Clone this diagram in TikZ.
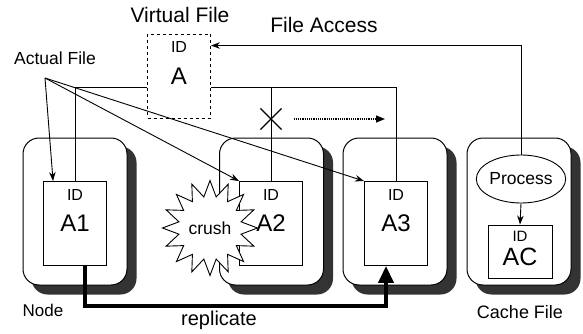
\documentclass[tikz,border=0pt]{standalone}
\usepackage{fontspec}
\setmainfont{Liberation Sans}
\usetikzlibrary{shapes.geometric, shapes.misc, arrows.meta, calc, backgrounds}

\begin{document}
\begin{tikzpicture}[x=1pt, y=1pt,
    host/.style={
        draw, fill=white, rounded corners=16pt, line width=1pt,
        minimum width=104pt, minimum height=147pt
    },
    hostshade/.style={fill=black!80, rounded corners=16pt},
    idtag/.style={anchor=north, yshift=-8pt, inner sep=0pt, font=\fontsize{16}{16}\selectfont},
    file/.style={
        draw, fill=white, line width=0.9pt, inner sep=0pt,
        minimum width=63pt, minimum height=84pt,
        font=\fontsize{24}{24}\selectfont,
        label={[idtag]north:ID}
    },
    lbl/.style={inner sep=0pt, font=\fontsize{#1}{#1}\selectfont},
    link/.style={line width=1pt},
    ptr/.style={line width=0.9pt, -{Stealth[length=9pt, width=6.5pt]}},
    move/.style={line width=1.2pt, densely dotted, -{Triangle[length=9pt, width=7pt]}},
    rep/.style={line width=4pt, -{Triangle[length=17pt, width=15pt]}},
]
\useasboundingbox (0,0) rectangle (583,-334);

% --- hosts (rounded boxes with shadow) ---
\node[host] (n1) at (75,-211.5) {};
\node[host] (n2) at (271.5,-211.5) {};
\node[host] (n3) at (395,-211.5) {};
\node[host] (n4) at (519,-211.5) {};
\begin{scope}[on background layer]
  \foreach \h in {n1,n2,n3,n4}
    \fill[hostshade] ($(\h.south west)+(9,-9)$) rectangle ($(\h.north east)+(9,-9)$);
\end{scope}

% --- virtual file ---
\node[file, dashed, fill=none] (vf) at (179,-76) {A};
\coordinate (vl) at ($(vf.west)+(0,-12)$);
\coordinate (vr) at ($(vf.east)+(0,-12)$);

% --- actual files ---
\node[file] (f1) at (75,-223.5) {A1};
\node[file] (f2) at (271,-223.5) {A2};
\node[file] (f3) at (396,-223.5) {A3};

% virtual file -> actual files
\draw[link] (vl) -| (f1.north);
\draw[link] (vr) -| (f3.north);
\draw[link] (vr -| f2.north) -- (f2.north);

% broken access
\node[cross out, draw, line width=1.2pt, minimum size=20pt] (cut) at (271,-119) {};
\coordinate (mv) at (385,-119);
\draw[move] ($(cut.east)+(12,0)$) -- (mv);

% --- cache node ---
\node[draw, ellipse, fill=white, line width=0.9pt, inner sep=0pt,
      minimum width=84pt, minimum height=48pt, lbl=17.5] (proc) at (521,-179) {Process};
\node[draw, fill=white, line width=0.9pt, inner sep=0pt,
      minimum width=64pt, minimum height=53pt, text height=27pt, text depth=0pt,
      font=\fontsize{25}{25}\selectfont,
      label={[idtag, yshift=1.5pt, font=\fontsize{15}{15}\selectfont]north:ID}]
      (ac) at (520,-251.5) {AC};
\draw[ptr] (proc.south) -- (ac.north);
\draw[ptr] (proc.north) |- ($(vf.north east)+(0,-12)$);

% --- actual file pointers ---
\coordinate (src) at (45,-78);
\draw[ptr] (src) -- ($(f1.north west)+(10,0)$);
\draw[ptr] (src) -- (f2.north west);
\draw[ptr] (src) -- (f3.north west);

% --- crash ---
\node[star, star points=16, star point ratio=1.5, draw, fill=white, line width=0.9pt,
      minimum size=95pt, inner sep=0pt, lbl=17.5] (crush) at (210,-228) {crush};

% --- replication ---
\draw[rep] ($(f1.south)+(10,0)$) -- ++(0,-40) -| ($(f3.south)+(-10,0)$);

% --- labels ---
\node[lbl=21] (vflbl) at (180,-15) {Virtual File};
\node[lbl=21] (facc) at (324,-25) {File Access};
\node[lbl=17.5] (aflbl) at (55,-58) {Actual File};
\node[lbl=17] (nlbl) at (43,-310) {Node};
\node[lbl=20] (replbl) at (219,-320) {replicate};
\node[lbl=18] (cflbl) at (520,-312) {Cache File};

\end{tikzpicture}
\end{document}
